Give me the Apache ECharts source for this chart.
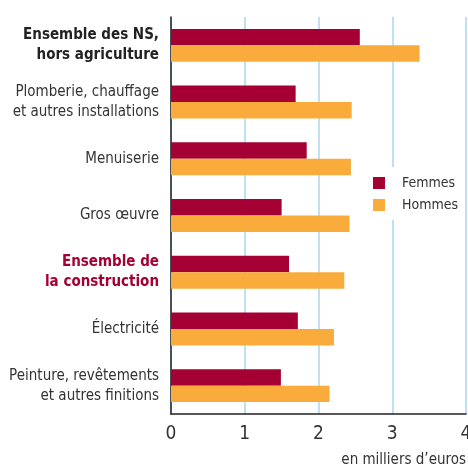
<!DOCTYPE html>
<html><head><meta charset="utf-8">
<script src="https://cdn.jsdelivr.net/npm/echarts@6/dist/echarts.min.js"></script>
<style>html,body{margin:0;padding:0;background:#fff}#c{width:468px;height:465px}</style>
</head><body><div id="c"></div>
<script>
const categories = [
  "Ensemble des NS,\nhors agriculture",
  "Plomberie, chauffage\net autres installations",
  "Menuiserie",
  "Gros œuvre",
  "Ensemble de\nla construction",
  "Électricité",
  "Peinture, revêtements\net autres finitions"
];
const femmes = [2.56, 1.69, 1.84, 1.50, 1.60, 1.72, 1.49];
const hommes = [3.37, 2.45, 2.44, 2.42, 2.35, 2.21, 2.15];
const xTicks = [0, 1, 2, 3, 4];
const seriesNames = ["Femmes", "Hommes"];
const unitLabel = "en milliers d\u2019euros";

const FONT = "'Liberation Sans Narrow', 'Arial Narrow', 'DejaVu Sans Condensed', sans-serif";
const chart = echarts.init(document.getElementById('c'));
chart.setOption({
  animation: false,
  textStyle: { fontFamily: FONT },
  grid: { left: 171, right: 2, top: 17, bottom: 51, containLabel: false, outerBoundsMode: 'none' },
  legend: {
    left: 365, top: 167,
    orient: 'vertical',
    backgroundColor: '#fff',
    padding: [9, 3, 8, 8],
    itemWidth: 12, itemHeight: 12, itemGap: 8,
    icon: 'rect',
    data: seriesNames,
    textStyle: { fontFamily: FONT, fontSize: 14, color: '#333', padding: [0, 0, 0, 12] }
  },
  xAxis: {
    type: 'value', min: xTicks[0], max: xTicks[xTicks.length - 1], interval: 1,
    axisLine: { show: true, lineStyle: { color: '#222', width: 1.5 } },
    axisTick: { show: false },
    splitLine: { show: true, lineStyle: { color: '#bfe0f3', width: 2 } },
    axisLabel: { fontFamily: FONT, fontSize: 19, color: '#333', margin: 11 }
  },
  yAxis: {
    type: 'category', inverse: true, data: categories,
    axisLine: { show: true, lineStyle: { color: '#222', width: 1.5 } },
    axisTick: { show: false },
    axisLabel: {
      margin: 12, fontFamily: FONT, fontSize: 15, color: '#333', lineHeight: 20, align: 'right',
      formatter: function (v, i) {
        if (i === 0) return v.split('\n').map(s => '{b|' + s + '}').join('\n');
        if (i === 4) return v.split('\n').map(s => '{r|' + s + '}').join('\n');
        return v;
      },
      rich: {
        b: { fontFamily: FONT, fontSize: 15, fontWeight: 'bold', color: '#222', lineHeight: 20 },
        r: { fontFamily: FONT, fontSize: 15, fontWeight: 'bold', color: '#a50034', lineHeight: 20 }
      }
    }
  },
  series: [
    { name: seriesNames[0], type: 'bar', data: femmes, barGap: '0%', barCategoryGap: '42%',
      itemStyle: { color: '#a50034' }, z: 3 },
    { name: seriesNames[1], type: 'bar', data: hommes, barGap: '0%', barCategoryGap: '42%',
      itemStyle: { color: '#f9ac3c' }, z: 3 }
  ],
  graphic: [{
    type: 'text', right: 2, top: 453,
    style: { text: unitLabel, font: "15px " + FONT, fill: '#333' }
  }]
});
</script></body></html>
